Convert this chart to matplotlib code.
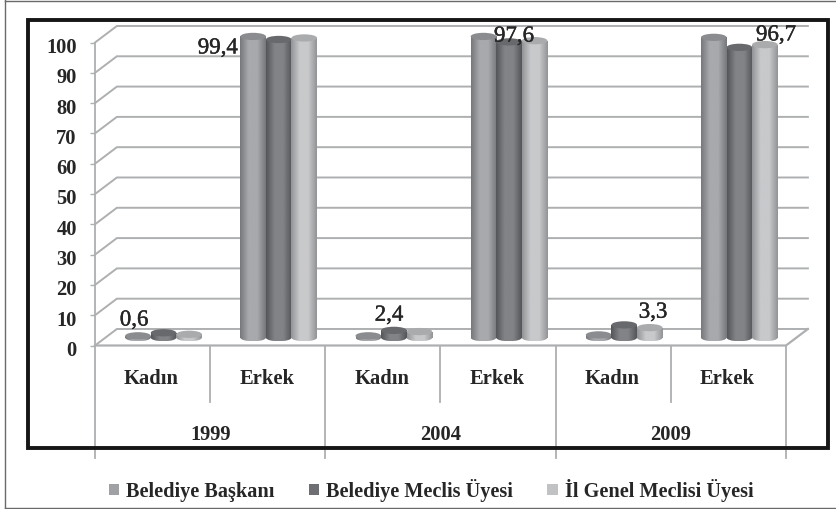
import numpy as np
import matplotlib
matplotlib.use("Agg")
import matplotlib.pyplot as plt
import matplotlib.patheffects as pe
from matplotlib.colors import LinearSegmentedColormap
from matplotlib.lines import Line2D
from matplotlib.patches import Ellipse, Patch, Rectangle
from matplotlib.transforms import ScaledTranslation

plt.rcParams['font.family'] = ['Liberation Serif', 'DejaVu Serif']

years = ["1999", "2004", "2009"]
genders = ["Kadın", "Erkek", "Kadın", "Erkek", "Kadın", "Erkek"]
series_names = ["Belediye Başkanı", "Belediye Meclis Üyesi", "İl Genel Meclisi Üyesi"]

baskan = [0.6, 99.4, 0.6, 99.4, 0.9, 99.1]
meclis = [1.6, 98.4, 2.4, 97.6, 4.2, 95.8]
il_genel = [1.1, 98.9, 2.0, 98.0, 3.3, 96.7]

y_ticks = [0, 10, 20, 30, 40, 50, 60, 70, 80, 90, 100]

# labels shown on the chart
label_texts = ["0,6", "99,4", "2,4", "97,6", "3,3", "96,7"]

W, H = 837, 509
GRID = "#adafb1"
TXT = "#262626"

# depth of the fake 3d box, in data units
DX = 0.19
DY = 5.45
# bars stand in the middle of the floor
BAR_DX = 0.095
BAR_DY = 2.6
BAR_W = 0.222
CAP_H = 2.4

edge_cols = ["#76787b", "#55565a", "#929497"]
mid_cols = ["#a8a9ac", "#828387", "#c8c9cb"]
cap_cols = ["#8a8c8f", "#68696c", "#a9abad"]
legend_cols = ["#a0a1a4", "#6e6f72", "#c1c2c4"]

fig = plt.figure(figsize=(W / 100, H / 100), dpi=100)
fig.patch.set_facecolor("white")


def fx(px):
    return px / W


def fy(py):
    return 1 - py / H


# outer thin frame and thick black frame
fig.add_artist(Line2D([fx(5), fx(5)], [fy(0), fy(507.5)], color="#6a6a6a", lw=1.0))
fig.add_artist(Line2D([fx(5), fx(837)], [fy(507.5), fy(507.5)], color="#6a6a6a", lw=1.0))
fig.add_artist(Line2D([fx(5), fx(837)], [fy(0.5), fy(0.5)], color="#6a6a6a", lw=1.0))
fig.add_artist(Rectangle((fx(28), fy(448)), fx(800), 428 / H, fill=False, ec="#161616", lw=2.8,
                         transform=fig.transFigure))

ax = fig.add_axes([fx(95), fy(345.5), fx(691), 303 / H])
ax.patch.set_alpha(0)


def gradient(x0, x1, y0, y1, cmap, clip):
    im = ax.imshow(np.linspace(0, 1, 64).reshape(1, -1), extent=(x0, x1, y0, y1), cmap=cmap,
                   aspect="auto", interpolation="bilinear", zorder=3, vmin=0, vmax=1)
    clip.set_transform(ax.transData)
    im.set_clip_path(clip)
    return im


def cylinder(xc, value, idx):
    cmap = LinearSegmentedColormap.from_list("c", [edge_cols[idx], mid_cols[idx], mid_cols[idx], edge_cols[idx]])
    x0 = xc - BAR_W / 2
    y0 = BAR_DY
    y1 = BAR_DY + value
    gradient(x0, x0 + BAR_W, y0 - CAP_H / 2, y0 + CAP_H / 2, cmap, Ellipse((xc, y0), BAR_W, CAP_H))
    gradient(x0, x0 + BAR_W, y0, y1, cmap, Rectangle((x0, y0), BAR_W, value))
    ax.add_patch(Ellipse((xc, y1), BAR_W, CAP_H, fc=cap_cols[idx], ec="none", zorder=3, clip_on=False))


# back wall lines and the diagonals to the axis
for t in y_ticks:
    ax.plot([0, DX, 6 + DX], [t, t + DY, t + DY], color=GRID, lw=1.4, clip_on=False, zorder=1,
            solid_joinstyle="miter")

# floor
ax.plot([0, 6, 6 + DX], [0, 0, DY], color=GRID, lw=1.6, clip_on=False, zorder=2, solid_joinstyle="miter")

# category separators below the floor
for i in range(7):
    low = -37 if i % 2 == 0 else -18.8
    ax.plot([i, i], [0, low], color=GRID, lw=1.3, clip_on=False, zorder=1)

# bars, drawn left to right
for c in range(len(genders)):
    for s, vals in enumerate([baskan, meclis, il_genel]):
        cylinder(c + 0.5 + BAR_DX + (s - 1) * BAR_W, vals[c], s)

ax.set_xlim(0, 6)
ax.set_ylim(0, 100)

for side in ["top", "right", "bottom"]:
    ax.spines[side].set_visible(False)
ax.spines["left"].set_color(GRID)
ax.spines["left"].set_linewidth(1.3)
ax.set_xticks([])
ax.set_yticks(y_ticks)
ax.tick_params(axis="y", length=3.6, width=1.0, color=GRID, pad=9.5)
for lab in ax.get_yticklabels():
    lab.set_fontsize(14.8)
    lab.set_fontweight("bold")
    lab.set_color(TXT)
    lab.set_transform(lab.get_transform() + ScaledTranslation(0, -3 / 100, fig.dpi_scale_trans))

# axis category names
for i, g in enumerate(genders):
    ax.text(i + 0.5 - 0.01, -11, g, ha="center", va="center", fontsize=14.8, fontweight="bold", color=TXT)
for i, y in enumerate(years):
    ax.text(2 * i + 1, -29.6, y, ha="center", va="center", fontsize=14.8, fontweight="bold", color=TXT)

# value labels
label_x = [0.339, 1.067, 2.553, 3.638, 4.845, 5.913]
label_y = [8.4, 98.2, 10.0, 102.1, 11.0, 102.5]
for x, y, s in zip(label_x, label_y, label_texts):
    ax.text(x, y, s, ha="center", va="center", fontsize=16.5, color=TXT, clip_on=False, zorder=5,
            path_effects=[pe.withStroke(linewidth=0.3, foreground=TXT)])

handles = [Patch(fc=c, ec="none") for c in legend_cols]
fig.legend(handles, series_names, loc="center", bbox_to_anchor=(fx(431), fy(490)), ncol=3, frameon=False,
           prop={"size": 14.6, "weight": "bold"}, labelcolor=TXT, handlelength=0.5, handleheight=0.5,
           handletextpad=0.35, columnspacing=1.7)

fig.savefig("out.png", dpi=100)
